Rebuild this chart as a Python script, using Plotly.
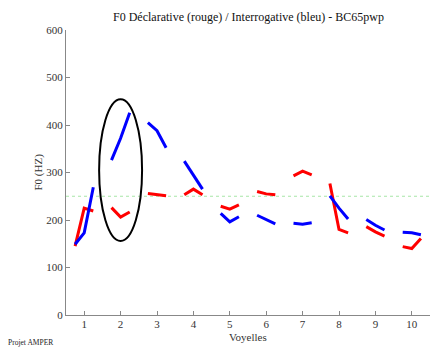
import plotly.graph_objects as go

vowels = [1, 2, 3, 4, 5, 6, 7, 8, 9, 10]
# F0 values (Hz) per vowel: start, middle, end
blue_f0 = [
    [149, 173, 269],
    [326, 372, 426],
    [405, 388, 352],
    [324, 295, 265],
    [214, 196, 207],
    [210, 201, 192],
    [193, 191, 194],
    [251, 225, 202],
    [201, 189, 179],
    [174, 173, 169],
]
red_f0 = [
    [145, 225, 219],
    [226, 206, 217],
    [256, 253, 251],
    [253, 265, 253],
    [229, 223, 232],
    [260, 255, 253],
    [293, 303, 295],
    [277, 180, 173],
    [186, 175, 166],
    [144, 140, 161],
]
offsets = [-0.25, 0.0, 0.25]
ref_line = 250
title = "F0 Déclarative (rouge) / Interrogative (bleu) - BC65pwp"


def build(series):
    xs, ys = [], []
    for v, vals in zip(vowels, series):
        for o, val in zip(offsets, vals):
            xs.append(v + o)
            ys.append(val)
        xs.append(None)
        ys.append(None)
    return xs, ys


fig = go.Figure()
rx, ry = build(red_f0)
bx, by = build(blue_f0)
fig.add_trace(go.Scatter(x=rx, y=ry, mode="lines", line=dict(color="#FF0000", width=3), connectgaps=False, hoverinfo="skip"))
fig.add_trace(go.Scatter(x=bx, y=by, mode="lines", line=dict(color="#0000FF", width=3), connectgaps=False, hoverinfo="skip"))

fig.add_shape(type="line", xref="x", yref="y", x0=0.5, x1=10.5, y0=ref_line, y1=ref_line,
              line=dict(color="#A8E6A8", width=1.2, dash="dot"), layer="below")
fig.add_shape(type="circle", xref="x", yref="y", x0=1.41, x1=2.59, y0=156, y1=454,
              line=dict(color="black", width=2))

font_serif = "Liberation Serif, Times New Roman, serif"
fig.update_layout(
    width=430, height=349,
    margin=dict(l=66, r=0, t=30, b=34),
    paper_bgcolor="white", plot_bgcolor="white",
    showlegend=False,
    font=dict(family=font_serif, size=11, color="#333"),
    xaxis=dict(range=[0.5, 10.5], tickvals=vowels, ticks="inside", ticklen=4,
               tickcolor="#888", showline=True, linecolor="#888", linewidth=1,
               showgrid=False, zeroline=False, tickfont=dict(size=11, color="#333"),
               ticklabelstandoff=-1),
    yaxis=dict(range=[0, 600], tickvals=[0, 100, 200, 300, 400, 500, 600], ticks="inside",
               ticklen=4, tickcolor="#888", showline=True, linecolor="#888", linewidth=1,
               showgrid=False, zeroline=False, tickfont=dict(size=11, color="#333")),
    annotations=[
        dict(text=title, xref="paper", yref="paper", x=0.5, y=1, yshift=13, showarrow=False,
             font=dict(size=12, color="#111"), xanchor="center", yanchor="middle"),
        dict(text="Voyelles", xref="paper", yref="paper", x=0.5, y=0, yshift=-22,
             showarrow=False, font=dict(size=11, color="#333"), xanchor="center", yanchor="middle"),
        dict(text="F0 (HZ)", xref="paper", yref="paper", x=0, xshift=-28, y=0.5,
             textangle=-90, showarrow=False, font=dict(size=11, color="#333"),
             xanchor="center", yanchor="middle"),
        dict(text="Projet AMPER", xref="paper", yref="paper", x=0, xshift=-60, y=0, yshift=-27,
             showarrow=False, font=dict(size=7.5, color="#222"), xanchor="left", yanchor="middle"),
    ],
)

fig.write_html("out.html")
